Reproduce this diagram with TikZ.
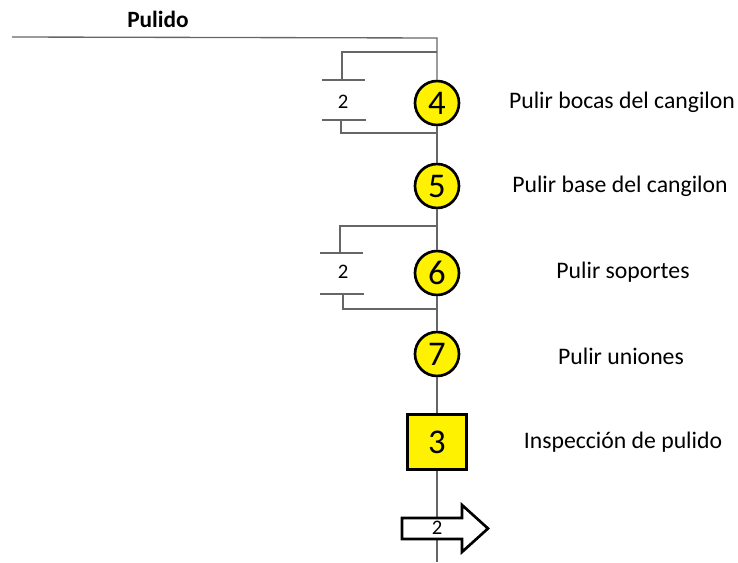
\documentclass[tikz,border=0pt]{standalone}
\usepackage{fontspec}
\setmainfont{Carlito}
\tikzset{
  oper/.style={circle,draw=black,line width=2pt,fill=yellow,minimum size=33pt,inner sep=0pt,font=\fontsize{26}{26}\selectfont},
  insp/.style={rectangle,draw=black,line width=2pt,fill=yellow,minimum width=44pt,minimum height=41pt,inner sep=0pt,font=\fontsize{26}{26}\selectfont},
  link/.style={draw=black!60,line width=1pt},
  rbar/.style={draw=black!60,line width=1pt},
  lbl/.style={font=\fontsize{17.8}{20}\selectfont},
  rep/.style={font=\fontsize{15.5}{17}\selectfont,inner sep=0pt}
}
\begin{document}
\begin{tikzpicture}[x=0.75pt,y=-0.75pt]
\useasboundingbox (0,0) rectangle (738,563);

% Title and incoming line
\node[font=\bfseries\fontsize{17.5}{19}\selectfont] (title) at (158,19) {Pulido};
\coordinate (start) at (12,37);
\coordinate (top) at (437,38);
\coordinate (bottom) at (437,562);

% Operations
\node[oper] (op4) at (437,103) {4};
\node[oper] (op5) at (437,186) {5};
\node[oper] (op6) at (437,273) {6};
\node[oper] (op7) at (437,354) {7};
\node[insp] (in3) at (437,442) {3};

% Labels
\node[lbl] (t4) at (622,102) {Pulir bocas del cangilon};
\node[lbl] (t5) at (620,186) {Pulir base del cangilon};
\node[lbl] (t6) at (623,272) {Pulir soportes};
\node[lbl] (t7) at (621,356) {Pulir uniones};
\node[lbl] (t3) at (623,442) {Inspección de pulido};

% Main line
\draw[link] (start) -- (top) -- (op4);
\draw[link] (op4) -- (op5);
\draw[link] (op5) -- (op6);
\draw[link] (op6) -- (op7);
\draw[link] (op7) -- (in3);
\draw[link] (in3) -- (bottom);

% Repetition loop of 4
\node[rep] (rep4) at (343,102) {2};
\coordinate (r4in) at (437,52);
\coordinate (r4top) at (342,80);
\coordinate (r4bot) at (341,120);
\coordinate (r4out) at (437,133);
\draw[link] (r4in) -| (r4top);
\draw[rbar] (322,80) -- (365,80);
\draw[rbar] (322,120) -- (366,120);
\draw[link] (r4bot) |- (r4out);

% Repetition loop of 6
\node[rep] (rep6) at (343,272) {2};
\coordinate (r6in) at (437,226);
\coordinate (r6top) at (340,253);
\coordinate (r6bot) at (343,294);
\coordinate (r6out) at (437,309);
\draw[link] (r6in) -| (r6top);
\draw[rbar] (320,253) -- (363,253);
\draw[rbar] (320,294) -- (364,294);
\draw[link] (r6bot) |- (r6out);

% Outgoing transport arrow
\draw[line width=2pt,fill=white,line join=miter] (402,518) -- (462,518) -- (462,505) -- (488,528.5)
  -- (462,552) -- (462,539) -- (402,539) -- cycle;
\node[rep] (out2) at (437,528) {2};
\end{tikzpicture}
\end{document}
